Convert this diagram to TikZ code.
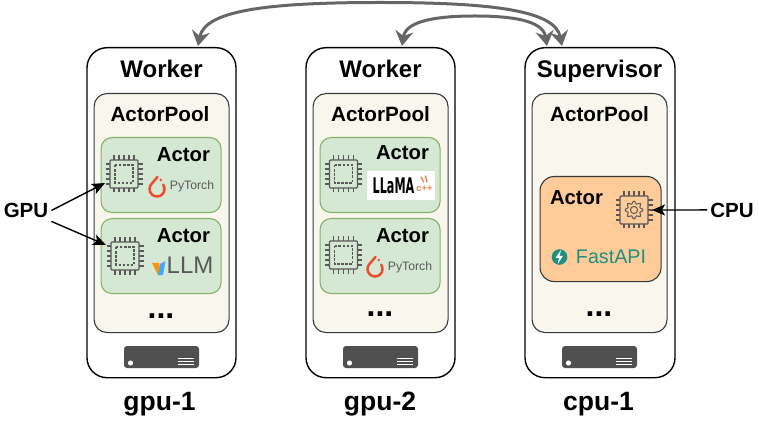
\documentclass[tikz,border=0pt]{standalone}
\usepackage{fontspec}
\usepackage{graphicx}
\setmainfont{Liberation Sans}
\newfontfamily\logofont{DejaVu Sans}
\usetikzlibrary{arrows.meta}
\definecolor{poolfill}{HTML}{F9F7ED}
\definecolor{edgegray}{HTML}{36393D}
\definecolor{actorgreen}{HTML}{D5E8D4}
\definecolor{actoredge}{HTML}{82B366}
\definecolor{actororange}{HTML}{FFCC99}
\definecolor{linkgray}{HTML}{666666}
\definecolor{chipgray}{HTML}{595959}
\definecolor{serverfill}{HTML}{505050}
\definecolor{torchred}{HTML}{EE4C2C}
\definecolor{fastteal}{HTML}{1F9080}
\definecolor{cpporange}{HTML}{E8875A}
\newcommand{\fsz}[1]{\fontsize{#1}{#1}\selectfont}
\tikzset{
  x=1pt,y=-1pt,
  box/.style={draw,rounded corners=#1,inner sep=0pt,anchor=north west},
  outerbox/.style={box=20pt,draw=black,line width=1.4pt,fill=white,minimum width=149pt,minimum height=330pt},
  poolbox/.style={box=13pt,draw=edgegray,line width=1.1pt,fill=poolfill,minimum width=135pt,minimum height=239pt},
  actorbox/.style={box=11pt,draw=actoredge,line width=1.1pt,fill=actorgreen,minimum width=120pt,minimum height=75pt},
  cpubox/.style={box=14pt,draw=edgegray,line width=1.1pt,fill=actororange,minimum width=121pt,minimum height=105pt},
  lbl/.style={font=\bfseries\fsz{#1},inner sep=0pt,anchor=base,text=black},
  linkarrow/.style={draw=linkgray,line width=3pt,{Stealth[length=15pt,width=18pt,inset=5pt]}-{Stealth[length=15pt,width=18pt,inset=5pt]}},
  callout/.style={draw=black,line width=1.4pt,-{Stealth[length=13pt,width=11pt,inset=3pt]}},
  pics/chippins/.style={code={
    \foreach \d in {-10,-5,0,5,10}{
      \draw[chipgray,line width=1.2pt] (\d,-14)--(\d,-18.5) (\d,14)--(\d,18.5) (-14,\d)--(-18.5,\d) (14,\d)--(18.5,\d);}
    \draw[chipgray,line width=1.4pt,rounded corners=1pt] (-14,-14) rectangle (14,14);
  }},
  pics/chip/.style={code={
    \pic {chippins};
    \draw[chipgray,line width=1.2pt,dash pattern=on 2.5pt off 1.6pt] (-9,-9) rectangle (9,9);
  }},
  pics/gearchip/.style={code={
    \pic {chippins};
    \draw[chipgray,line width=1pt] plot[smooth cycle,samples=48,domain=0:352.5] (\x:{7.6+1.3*cos(8*\x)});
    \draw[chipgray,line width=1pt] (0,0) circle (3.6);
  }},
  pics/flame/.style={code={
    \draw[torchred,line width=2.5pt,line cap=round] (0.5,-12)--(-5.3,-5.3) arc[start angle=-135,end angle=-395,radius=7.5];
    \fill[torchred] (3.8,-9) circle (1.4);
  }},
  pics/server/.style={code={
    \fill[serverfill,rounded corners=3pt] (-37.5,-11) rectangle (37.5,11);
    \fill[white] (-31,6) circle (2.6);
    \draw[white,line width=1.1pt] (16.5,1.5)--(32.5,1.5) (16.5,4.3)--(32.5,4.3) (16.5,7.1)--(32.5,7.1);
  }},
}
\begin{document}
\begin{tikzpicture}
\useasboundingbox (0,0) rectangle (759,427);
% nodes (machines)
\node[outerbox] (m1) at (86.3,47) {};
\node[outerbox] (m2) at (305.3,47) {};
\node[outerbox,minimum width=150pt] (m3) at (524.3,47) {};
\node[poolbox] (p1) at (93.5,93) {};
\node[poolbox] (p2) at (312.5,93) {};
\node[poolbox] (p3) at (531.5,93) {};
\node[actorbox] (a11) at (100.5,137) {};
\node[actorbox] (a12) at (100.5,218) {};
\node[actorbox] (a21) at (319.5,137) {};
\node[actorbox] (a22) at (319.5,218) {};
\node[cpubox] (a31) at (539.5,176) {};
% titles
\node[lbl=24] (t1) at (161.5,78) {Worker};
\node[lbl=24] (t2) at (380.5,78) {Worker};
\node[lbl=24] (t3) at (599.5,78) {Supervisor};
\node[lbl=20.7] (pt1) at (160,122) {ActorPool};
\node[lbl=20.7] (pt2) at (380.5,122) {ActorPool};
\node[lbl=20.7] (pt3) at (599.5,122) {ActorPool};
\node[lbl=20.3] (at11) at (183.5,162) {Actor};
\node[lbl=20.3] (at12) at (183.5,243) {Actor};
\node[lbl=20.3] (at21) at (402.5,160) {Actor};
\node[lbl=20.3] (at22) at (402.5,243) {Actor};
\node[lbl=20.3] (at31) at (576.5,205) {Actor};
\node[lbl=32] (d1) at (161,318) {...};
\node[lbl=32] (d2) at (380,316) {...};
\node[lbl=32] (d3) at (599,316) {...};
\node[lbl=26.5] (h1) at (159.5,410) {gpu-1};
\node[lbl=26.5] (h2) at (380,410) {gpu-2};
\node[lbl=26.5] (h3) at (598.5,410) {cpu-1};
\node[lbl=20.5] (gpu) at (26,218) {GPU};
\node[lbl=20.5] (cpu) at (732,218) {CPU};
% chips
\pic at (124,174) {chip};
\pic at (125,256) {chip};
\pic at (343.5,174) {chip};
\pic at (343.5,255) {chip};
\pic at (634,210) {gearchip};
% PyTorch logos
\pic at (157,189) {flame};
\node[inner sep=0pt,text=chipgray] (pt-a) at (192,186) {\fsz{12.2}PyTorch};
\pic at (375,269) {flame};
\node[inner sep=0pt,text=chipgray] (pt-b) at (410,267) {\fsz{12.2}PyTorch};
% vLLM logo
\fill[orange!85!yellow] (152,263)--(159,263)--(161,275)--(158,275)--cycle;
\fill[blue!45!cyan!75!white] (158,275)--(160,264)--(165.5,261)--(163,275)--cycle;
\node[inner sep=0pt,text=chipgray] (vllm) at (190,265.5) {\fsz{24}LLM};
% LLaMA logo
\fill[white] (367,171) rectangle (435,200);
\node[inner sep=0pt,text=black] (llama) at (393.5,186) {\logofont\bfseries\fsz{16}\scalebox{.7}[1.35]{LLaMA}};
\draw[cpporange,line width=1.5pt,line cap=round] (421,177)--(423.5,182) (425.5,176)--(427,182);
\node[inner sep=0pt,text=cpporange] (cpp) at (424.5,188.5) {\bfseries\fsz{9.5}c++};
% FastAPI logo
\fill[fastteal] (559.5,257) circle (7.8);
\fill[white] (561,250)--(555.5,258)--(558.9,258)--(557.7,264)--(563,255.8)--(559.6,255.8)--cycle;
\node[inner sep=0pt,text=fastteal] (fast) at (611,257) {\fsz{19.7}FastAPI};
% servers
\pic at (161.5,357) {server};
\pic at (380.5,357) {server};
\pic at (599.5,357) {server};
% connectors
\coordinate (lk1) at (198,46);
\coordinate (lk2) at (402,46);
\coordinate (lk3) at (547,46);
\coordinate (lk4) at (562,46);
\coordinate (cg1) at (105,183);
\coordinate (cg2) at (106,245);
\coordinate (cc1) at (652,210);
\draw[linkarrow] (lk1) .. controls (205,10) and (270,2.5) .. (380,2.5) .. controls (490,2.5) and (555,10) .. (lk4);
\draw[linkarrow] (lk2) .. controls (406,20) and (440,16) .. (475,16) .. controls (510,16) and (543,20) .. (lk3);
\draw[callout] (gpu.north east) ++(3,7) coordinate (cs1) -- (cg1);
\draw[callout] (gpu.south east) ++(3,3) coordinate (cs2) -- (cg2);
\draw[callout] (cpu.west) ++(-3,-1) coordinate (cs3) -- (cc1);
\end{tikzpicture}
\end{document}
